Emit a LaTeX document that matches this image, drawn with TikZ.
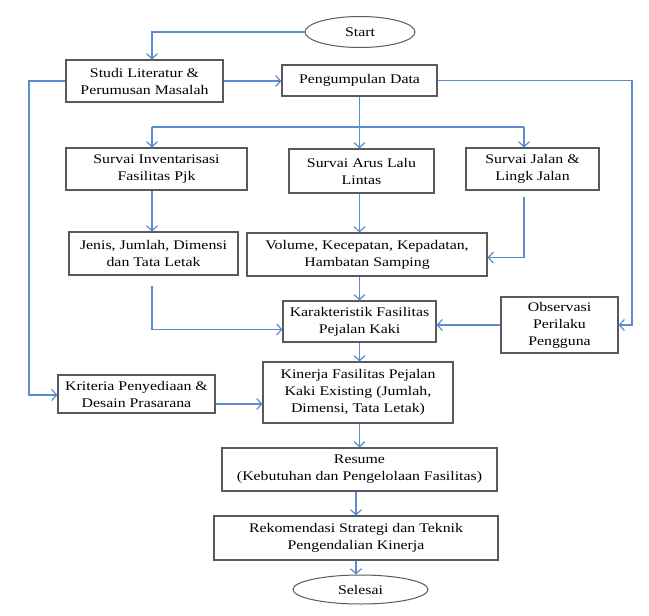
\documentclass[tikz,border=0pt]{standalone}
\usepackage{fontspec}
\setmainfont[FakeStretch=1.2]{Liberation Serif}
\usetikzlibrary{arrows.meta,shapes.geometric}
\definecolor{linkblue}{HTML}{5B8BD0}
\definecolor{boxgray}{HTML}{5A5A5A}
\tikzset{
  box/.style={draw=boxgray,line width=1.1pt,inner sep=1pt,align=center,font=\fontsize{13.2}{17}\selectfont},
  oval/.style={ellipse,draw=boxgray,line width=1pt,inner sep=0pt,font=\fontsize{13.2}{17}\selectfont},
  link/.style={draw=linkblue,line width=1.3pt},
  arr/.style={link,-{Straight Barb[length=5pt,width=11pt,line width=1.2pt]}}
}
\begin{document}
\begin{tikzpicture}[x=1pt,y=-1pt]
\useasboundingbox (0,0) rectangle (649,616);
\node[oval,minimum width=110pt,minimum height=31pt] (start) at (360,32) {Start};
\node[box,minimum width=157pt,minimum height=42pt] (studi) at (144.5,81) {Studi Literatur \&\\Perumusan Masalah};
\node[box,minimum width=155pt,minimum height=31pt] (peng) at (359.5,80.5) {Pengumpulan Data};
\node[box,minimum width=181pt,minimum height=42pt] (inv) at (156.5,169) {Survai Inventarisasi\\Fasilitas Pjk};
\node[box,minimum width=145pt,minimum height=44pt] (arus) at (361.5,171) {Survai Arus Lalu\\Lintas};
\node[box,minimum width=133pt,minimum height=42pt] (jalan) at (532.5,169) {Survai Jalan \&\\Lingk Jalan};
\node[box,minimum width=169pt,minimum height=43pt] (jenis) at (153.5,253.5) {Jenis, Jumlah, Dimensi\\dan Tata Letak};
\node[box,minimum width=240pt,minimum height=43pt] (vol) at (367,254.5) {Volume, Kecepatan, Kepadatan,\\Hambatan Samping};
\node[box,minimum width=153pt,minimum height=41pt] (kar) at (359.5,321.5) {Karakteristik Fasilitas\\Pejalan Kaki};
\node[box,minimum width=117pt,minimum height=56pt] (obs) at (559.5,325) {Observasi\\Perilaku\\Pengguna};
\node[box,minimum width=157pt,minimum height=38pt] (krit) at (136.5,394) {Kriteria Penyediaan \&\\Desain Prasarana};
\node[box,minimum width=190pt,minimum height=61pt] (kin) at (358,392.5) {Kinerja Fasilitas Pejalan\\Kaki Existing (Jumlah,\\Dimensi, Tata Letak)};
\node[box,minimum width=275pt,minimum height=43pt] (res) at (359.5,469.5) {Resume\\(Kebutuhan dan Pengelolaan Fasilitas)};
\node[box,minimum width=284pt,minimum height=44pt] (rek) at (356,538) {Rekomendasi Strategi dan Teknik\\Pengendalian Kinerja};
\node[oval,minimum width=135pt,minimum height=29pt] (sel) at (360.5,589.5) {Selesai};
\coordinate (bl) at (152,127);
\coordinate (br) at (524,127);
\coordinate (c1) at (632,325);
\coordinate (c2) at (29,395);
% connectors
\draw[arr] (start.west) -| ([xshift=7.5pt]studi.north);
\draw[arr] (studi.east) -- (studi.east -| peng.west);
\draw[arr] (peng.east) -| (c1) -- (obs.east);
\draw[arr] (peng.south) -- (peng.south |- arus.north);
\draw[link] (bl) -- (br);
\draw[arr] (bl) -- (bl |- inv.north);
\draw[arr] (br) -- (br |- jalan.north);
\draw[arr] (bl |- inv.south) -- (bl |- jenis.north);
\draw[arr] (peng.south |- arus.south) -- (peng.south |- vol.north);
\draw[arr] ([yshift=-6pt]br |- jalan.south) |- ([yshift=-3pt]vol.east);
\draw[arr] (peng.south |- vol.south) -- (peng.south |- kar.north);
\draw[arr] ([yshift=-10pt]bl |- jenis.south) |- ([yshift=-8pt]kar.west);
\draw[arr] (obs.west) -- (obs.west -| kar.east);
\draw[arr] (kar.south) -- (kar.south |- kin.north);
\draw[arr] (studi.west) -| (c2) -- (c2 -| krit.west);
\draw[arr] ([yshift=-10pt]krit.east) -- ([yshift=-10pt]krit.east -| kin.west);
\draw[arr] (kin.south -| res.north) -- (res.north);
\draw[arr] (res.south -| rek.north) -- (rek.north);
\draw[arr] (rek.south) -- (rek.south |- sel.north);
\end{tikzpicture}
\end{document}
